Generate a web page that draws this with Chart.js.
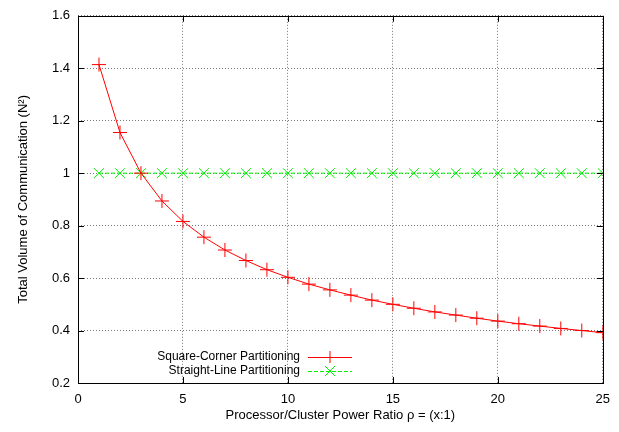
<!DOCTYPE html>
<html>
<head>
<meta charset="utf-8">
<script src="https://cdn.jsdelivr.net/npm/chart.js@4"></script>
<style>
  html, body { margin: 0; padding: 0; background: #fff; }
  #wrap { width: 619px; height: 432px; }
</style>
</head>
<body>
<div id="wrap"><canvas id="chart" width="619" height="432"></canvas></div>
<script>
const ratios = [1, 2, 3, 4, 5, 6, 7, 8, 9, 10, 11, 12, 13, 14, 15, 16, 17, 18, 19, 20, 21, 22, 23, 24, 25];
const squareCorner = [1.414, 1.155, 1.0, 0.894, 0.816, 0.756, 0.707, 0.667, 0.632, 0.603, 0.577, 0.555, 0.535,
  0.516, 0.5, 0.485, 0.471, 0.459, 0.447, 0.436, 0.426, 0.417, 0.408, 0.4, 0.392];
const straightLine = [1, 1, 1, 1, 1, 1, 1, 1, 1, 1, 1, 1, 1, 1, 1, 1, 1, 1, 1, 1, 1, 1, 1, 1, 1];
const seriesNames = ['Square-Corner Partitioning', 'Straight-Line Partitioning'];
const xTicks = [0, 5, 10, 15, 20, 25];
const yTicks = [0.2, 0.4, 0.6, 0.8, 1, 1.2, 1.4, 1.6];

const FONT = 'Liberation Sans, Arial, Helvetica, sans-serif';
Chart.defaults.font.family = FONT;
Chart.defaults.font.size = 12;
Chart.defaults.color = '#000';

const RED = '#ff0000';
const GREEN = '#00f000';

// gnuplot look: inward ticks on all four sides, frame, key in the lower left
const gnuplotFrame = {
  id: 'gnuplotFrame',
  afterDatasetsDraw(chart) {
    const { ctx, chartArea: a, scales: { x, y } } = chart;
    ctx.save();
    ctx.strokeStyle = '#000';
    ctx.lineWidth = 1;
    ctx.beginPath();
    for (const v of xTicks) {
      const px = Math.round(x.getPixelForValue(v)) + 0.5;
      ctx.moveTo(px, a.bottom); ctx.lineTo(px, a.bottom - 6);
      ctx.moveTo(px, a.top); ctx.lineTo(px, a.top + 6);
    }
    for (const v of yTicks) {
      const py = Math.round(y.getPixelForValue(v)) + 0.5;
      ctx.moveTo(a.left, py); ctx.lineTo(a.left + 6, py);
      ctx.moveTo(a.right, py); ctx.lineTo(a.right - 6, py);
    }
    ctx.stroke();
    ctx.strokeRect(Math.round(a.left) + 0.5, Math.round(a.top) + 0.5,
      Math.round(a.right - a.left), Math.round(a.bottom - a.top));

    // key
    ctx.font = '12px ' + FONT;
    ctx.textAlign = 'right';
    ctx.textBaseline = 'middle';
    const textX = 300, x0 = 308, x1 = 352, xm = 330;
    const rows = [357, 371];
    ctx.fillStyle = '#000';
    ctx.fillText(seriesNames[0], textX, rows[0]);
    ctx.fillText(seriesNames[1], textX, rows[1]);
    ctx.strokeStyle = RED;
    ctx.beginPath();
    ctx.moveTo(x0, rows[0] + 0.5); ctx.lineTo(x1, rows[0] + 0.5);
    ctx.moveTo(xm, rows[0] - 6); ctx.lineTo(xm, rows[0] + 6);
    ctx.stroke();
    ctx.strokeStyle = GREEN;
    ctx.setLineDash([4, 2]);
    ctx.beginPath();
    ctx.moveTo(x0, rows[1] + 0.5); ctx.lineTo(x1, rows[1] + 0.5);
    ctx.stroke();
    ctx.setLineDash([]);
    ctx.beginPath();
    ctx.moveTo(xm - 5, rows[1] - 5); ctx.lineTo(xm + 5, rows[1] + 5);
    ctx.moveTo(xm - 5, rows[1] + 5); ctx.lineTo(xm + 5, rows[1] - 5);
    ctx.stroke();
    ctx.restore();
  },
};

new Chart(document.getElementById('chart'), {
  type: 'line',
  data: {
    datasets: [
      {
        label: seriesNames[0],
        data: ratios.map((r, i) => ({ x: r, y: squareCorner[i] })),
        borderColor: RED,
        backgroundColor: RED,
        borderWidth: 1,
        pointStyle: 'cross',
        pointRadius: 7,
        pointBorderWidth: 1,
        tension: 0,
      },
      {
        label: seriesNames[1],
        data: ratios.map((r, i) => ({ x: r, y: straightLine[i] })),
        borderColor: GREEN,
        backgroundColor: GREEN,
        borderWidth: 1,
        borderDash: [4, 2],
        pointStyle: 'crossRot',
        pointRadius: 7,
        pointBorderWidth: 1,
        tension: 0,
      },
    ],
  },
  options: {
    responsive: false,
    animation: false,
    layout: { padding: { top: 9, right: 16, left: 16, bottom: 9 } },
    plugins: { legend: { display: false }, tooltip: { enabled: false } },
    scales: {
      x: {
        type: 'linear',
        min: 0, max: 25,
        afterBuildTicks: s => { s.ticks = xTicks.map(v => ({ value: v })); },
        afterFit: s => { s.height = 40; },
        border: { display: false, dash: [1, 2] },
        grid: { color: '#777', drawTicks: false },
        ticks: { padding: 9, font: { size: 13 }, callback: v => String(v) },
        title: { display: true, text: 'Processor/Cluster Power Ratio ρ = (x:1)', font: { size: 13 }, padding: { top: 4, bottom: 0 } },
      },
      y: {
        min: 0.2, max: 1.6,
        afterBuildTicks: s => { s.ticks = yTicks.map(v => ({ value: v })); },
        afterFit: s => { s.width = 62; },
        border: { display: false, dash: [1, 2] },
        grid: { color: '#777', drawTicks: false },
        ticks: { padding: 8, font: { size: 13 }, callback: v => String(v) },
        title: { display: true, text: 'Total Volume of Communication (N²)', font: { size: 13 }, padding: { top: 0, bottom: 4 } },
      },
    },
  },
  plugins: [gnuplotFrame],
});
</script>
</body>
</html>
